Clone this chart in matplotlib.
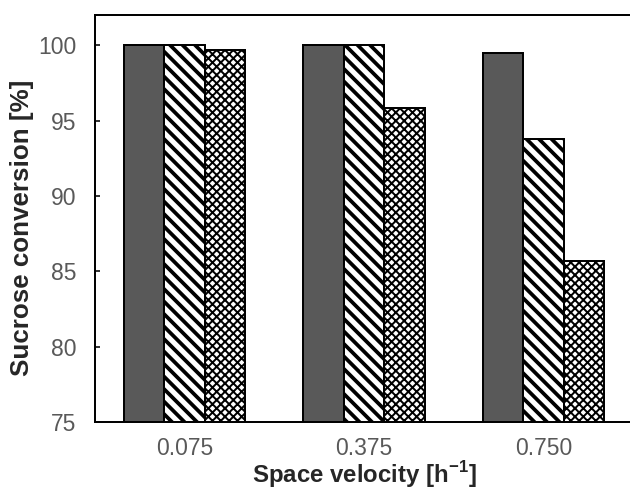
import numpy as np
import matplotlib
matplotlib.use("Agg")
import matplotlib.pyplot as plt

# 数据
categories = ["0.075", "0.375", "0.750"]
solid_vals = [100.0, 100.0, 99.5]
stripe_vals = [100.0, 100.0, 93.8]
cross_vals = [99.7, 95.8, 85.7]

DPI = 75
BAR_W = 0.225
TEXT_GRAY = "#595959"

plt.rcParams["font.family"] = ["Liberation Sans", "DejaVu Sans"]
plt.rcParams["mathtext.fontset"] = "custom"
plt.rcParams["mathtext.rm"] = "Liberation Sans"
plt.rcParams["mathtext.bf"] = "Liberation Sans:bold"


def style_hatch(bars, lw):
    for b in bars:
        if hasattr(b, "set_hatch_linewidth"):
            b.set_hatch_linewidth(lw)


def main():
    fig = plt.figure(figsize=(630 / DPI, 490 / DPI), dpi=DPI)
    ax = fig.add_axes([95 / 630, 68 / 490, 538 / 630, 407 / 490])

    x = np.arange(len(categories))
    ax.bar(x - BAR_W, solid_vals, BAR_W, color="#595959", edgecolor="black", linewidth=1.9)
    plt.rcParams["hatch.linewidth"] = 3.6
    b2 = ax.bar(x, stripe_vals, BAR_W, color="white", edgecolor="black", linewidth=1.9, hatch="\\\\")
    style_hatch(b2, 3.6)
    plt.rcParams["hatch.linewidth"] = 1.9
    b3 = ax.bar(x + BAR_W, cross_vals, BAR_W, color="white", edgecolor="black", linewidth=1.9, hatch="xxx")
    style_hatch(b3, 1.9)

    ax.set_xlim(-0.5, 2.5)
    ax.set_ylim(75, 102)
    ax.set_yticks([75, 80, 85, 90, 95, 100])
    ax.set_xticks(x)
    ax.set_xticklabels(categories)

    for s in ax.spines.values():
        s.set_linewidth(1.9)
        s.set_color("black")

    ax.tick_params(axis="y", direction="in", length=5, width=1.5, pad=18,
                   labelsize=22, labelcolor=TEXT_GRAY)
    ax.tick_params(axis="x", length=0, pad=14, labelsize=22, labelcolor=TEXT_GRAY)

    ax.set_xlabel(r"Space velocity [h$^{\mathbf{-1}}$]", fontsize=23, fontweight="bold",
                  color="#262626", labelpad=0)
    ax.set_ylabel("Sucrose conversion [%]", fontsize=25, fontweight="bold", color="#262626")
    ax.yaxis.set_label_coords(-0.113, 0.477)

    fig.savefig("out.png", dpi=DPI)


if __name__ == "__main__":
    main()
